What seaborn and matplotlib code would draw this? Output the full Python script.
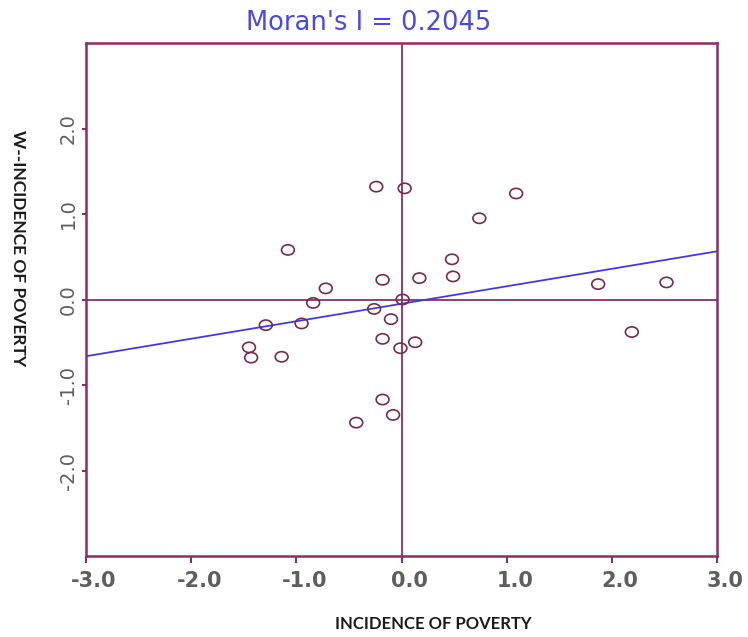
import numpy as np
import pandas as pd
import seaborn as sns
import matplotlib
matplotlib.use("Agg")
import matplotlib.pyplot as plt
import matplotlib.transforms as mtransforms
from matplotlib.path import Path

# ---- data ----
incidence = [-0.24, 0.03, -1.08, -0.18, 0.17, 0.48, 0.49, -0.72, -0.84, 0.01,
             -0.26, -1.29, -0.95, -0.10, -0.18, 0.13, -0.01, -1.45, -1.43, -1.14,
             -0.18, -0.08, -0.43, 1.09, 0.74, 1.87, 2.52, 2.19]
lagged = [1.32, 1.30, 0.58, 0.23, 0.25, 0.47, 0.27, 0.13, -0.04, 0.00,
          -0.11, -0.30, -0.28, -0.23, -0.46, -0.50, -0.57, -0.56, -0.68, -0.67,
          -1.17, -1.35, -1.44, 1.24, 0.95, 0.18, 0.20, -0.38]
moran_i = 0.2045
intercept = -0.05
x_ticks = [-3.0, -2.0, -1.0, 0.0, 1.0, 2.0, 3.0]
y_ticks = [-2.0, -1.0, 0.0, 1.0, 2.0]
x_limits = [-3.0, 3.0]
y_limits = [-3.0, 3.0]
title_text = "Moran's I = 0.2045"
x_label = "INCIDENCE OF POVERTY"
y_label = "W--INCIDENCE OF POVERTY"

df = pd.DataFrame({"z": incidence, "wz": lagged})
line_df = pd.DataFrame({"z": x_limits})
line_df["wz"] = intercept + moran_i * line_df["z"]

sns.set_theme(style="white")
plt.rcParams["axes.unicode_minus"] = False
plt.rcParams["font.family"] = ["DejaVu Sans"]

frame_col = "#8a2f64"
point_col = "#762a52"
line_col = "#3d3ddc"
title_col = "#4a4ae0"
tick_col = "#5e5e5e"

fig = plt.figure(figsize=(7.48, 6.37), dpi=100)
ax = fig.add_axes([86 / 748, 1 - 556 / 637, (717 - 86) / 748, (556 - 43) / 637])

# quadrant lines
ax.axhline(0, color=frame_col, lw=1.3, zorder=1)
ax.axvline(0, color=frame_col, lw=1.3, zorder=1)

# regression line (slope = Moran's I)
sns.lineplot(data=line_df, x="z", y="wz", ax=ax, color=line_col, lw=1.3, zorder=2)

# slightly flattened open circle marker
ell = Path.unit_circle().transformed(mtransforms.Affine2D().scale(1.25, 1.0))
sns.scatterplot(data=df, x="z", y="wz", ax=ax, marker=ell, s=85,
                facecolors="none", edgecolor=point_col, linewidth=1.2, zorder=3)

ax.set_xlim(*x_limits)
ax.set_ylim(*y_limits)
ax.set_xticks(x_ticks)
ax.set_yticks(y_ticks)
ax.set_xticklabels([f"{v:.1f}" for v in x_ticks], fontsize=15, fontweight="bold", color=tick_col)
ax.set_yticklabels([f"{v:.1f}" for v in y_ticks], fontsize=14, color=tick_col,
                   rotation=90, va="center")
ax.tick_params(axis="x", direction="out", length=5, width=1.5, color=frame_col, pad=6, bottom=True)
ax.tick_params(axis="y", direction="out", length=3, width=1.5, color=frame_col, pad=3, left=True)
ax.set_xlabel("")
ax.set_ylabel("")

for sp in ax.spines.values():
    sp.set_color(frame_col)
    sp.set_linewidth(1.8)

offset = mtransforms.ScaledTranslation(8 / 100, 0, fig.dpi_scale_trans)
for lab in ax.get_xticklabels():
    lab.set_transform(lab.get_transform() + offset)

fig.text(369 / 748, 1 - 30 / 637, title_text, color=title_col, fontsize=18.5,
         ha="center", va="baseline")
fig.text(433 / 748, 1 - 629 / 637, x_label, family=["Lato", "DejaVu Sans"],
         fontweight="bold", fontsize=12, color="#1a1a1a", ha="center", va="baseline")
fig.text(18 / 748, 1 - 248 / 637, y_label, family=["Lato", "DejaVu Sans"],
         fontweight="bold", fontsize=12.5, color="#1a1a1a", ha="center", va="center",
         rotation=-90)

fig.savefig("out.png", dpi=100)
